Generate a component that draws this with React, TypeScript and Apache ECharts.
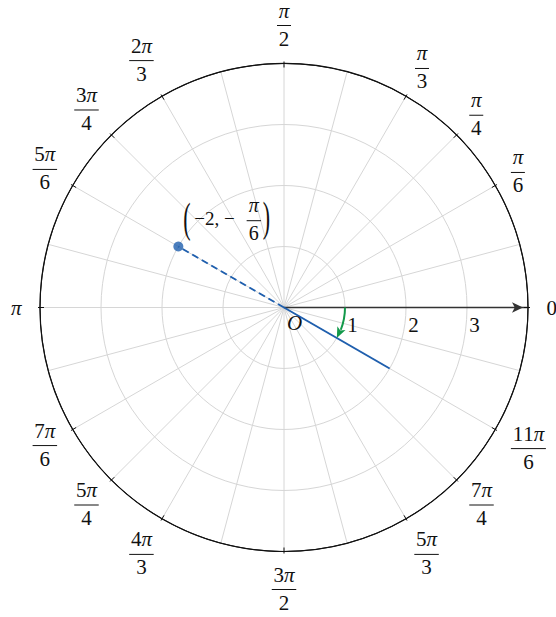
import React, { useEffect, useRef } from 'react';
import * as echarts from 'echarts';

// ---- data ----
const radiusMax = 4;
const radiusTicks = [0, 1, 2, 3];
const radiusTickLabels = ['O', '1', '2', '3'];
const angleLabelDeg = [0, 30, 45, 60, 90, 120, 135, 150, 180, 210, 225, 240, 270, 300, 315, 330];
const angleLabelNum = ['0', 'π', 'π', 'π', 'π', '2π', '3π', '5π', 'π', '7π', '5π', '4π', '3π', '5π', '7π', '11π'];
const angleLabelDen = ['', '6', '4', '3', '2', '3', '4', '6', '', '6', '4', '3', '2', '3', '4', '6'];
const pointR = -2; // polar point (−2, −π/6)
const pointDeg = -30;
const rayR = 2; // ray at θ = −π/6
const rayDeg = -30;
const arcData = [[1, 0, -30]]; // radius, from angle, to angle (deg)
const annotationLead = '−2, −';
const annotationNum = 'π';
const annotationDen = '6';

// ---- styles ----
const SERIF = 'Liberation Serif';
const BLUE = '#1f5fae';
const GREEN = '#12994a';
const GRID = '#d6d6d6';
const INK = '#111';

const norm = (d: number) => ((d % 360) + 360) % 360;
const toDisplay = (r: number, deg: number) => (r < 0 ? [-r, norm(deg + 180)] : [r, norm(deg)]);
const pt = toDisplay(pointR, pointDeg);
const ray = toDisplay(rayR, rayDeg);

function richNum(s: string) {
  return s
    .split('')
    .map((ch) => (ch === 'π' ? '{i|π}' : `{u|${ch}}`))
    .join('');
}
const richStyles = {
  u: { fontFamily: SERIF, fontSize: 21, fontStyle: 'normal', fill: INK, color: INK },
  i: { fontFamily: SERIF, fontSize: 21, fontStyle: 'italic', fill: INK, color: INK },
};

function txt(text: string, size: number, italic = false, align = 'center') {
  return {
    text,
    fontFamily: SERIF,
    fontSize: size,
    fontStyle: italic ? 'italic' : 'normal',
    align,
    verticalAlign: 'middle',
    fill: INK,
  };
}

function buildOption() {
  return {
    animation: false,
    backgroundColor: '#fff',
    polar: { center: [284, 307.5], radius: 244 },
    angleAxis: {
      type: 'value',
      min: 0,
      max: 360,
      interval: 15,
      startAngle: 0,
      clockwise: false,
      z: 0,
      axisLine: { show: true, lineStyle: { color: INK, width: 1.2 } },
      axisTick: { show: false },
      axisLabel: { show: false },
      splitLine: { show: true, lineStyle: { color: GRID, width: 1 } },
    },
    radiusAxis: {
      type: 'value',
      min: 0,
      max: radiusMax,
      interval: 1,
      z: 1,
      axisLine: {
        show: true,
        symbol: ['none', 'arrow'],
        symbolSize: [8, 11],
        symbolOffset: [0, -5],
        lineStyle: { color: '#333', width: 1.3 },
      },
      axisTick: { show: false },
      axisLabel: { show: false },
      splitLine: { show: true, lineStyle: { color: [GRID, GRID, GRID, GRID, INK], width: 1 } },
    },
    series: [
      {
        type: 'line',
        coordinateSystem: 'polar',
        data: [[0, ray[1]], ray],
        symbol: 'none',
        lineStyle: { color: BLUE, width: 2 },
        z: 3,
      },
      {
        type: 'line',
        coordinateSystem: 'polar',
        data: [[0, pt[1]], pt],
        symbol: 'none',
        lineStyle: { color: BLUE, width: 2, type: [7, 4] },
        z: 3,
      },
      {
        type: 'scatter',
        coordinateSystem: 'polar',
        data: [pt],
        symbolSize: 10,
        itemStyle: { color: BLUE },
        z: 4,
      },
      {
        type: 'custom',
        coordinateSystem: 'polar',
        silent: true,
        z: 5,
        data: arcData,
        encode: { radius: 0, angle: 1 },
        renderItem: (params: any, api: any) => {
          const cs = params.coordSys;
          const cx = cs.cx;
          const cy = cs.cy;
          const p = api.coord([api.value(0), 0]);
          const r = Math.hypot(p[0] - cx, p[1] - cy);
          const a0 = (-api.value(1) * Math.PI) / 180;
          const aT = (-api.value(2) * Math.PI) / 180;
          const dirSign = aT > a0 ? 1 : -1;
          const L = 11;
          const hw = 4.5;
          const aB = aT - (dirSign * L) / r;
          const T = [cx + r * Math.cos(aT), cy + r * Math.sin(aT)];
          const B = [cx + r * Math.cos(aB), cy + r * Math.sin(aB)];
          const dx = T[0] - B[0];
          const dy = T[1] - B[1];
          const dl = Math.hypot(dx, dy);
          const ux = dx / dl;
          const uy = dy / dl;
          const nx = -uy;
          const ny = ux;
          return {
            type: 'group',
            children: [
              {
                type: 'arc',
                shape: { cx, cy, r, startAngle: a0, endAngle: aB + dirSign * 0.03, clockwise: dirSign > 0 },
                style: { stroke: GREEN, lineWidth: 2, fill: null },
              },
              {
                type: 'polygon',
                shape: {
                  points: [
                    T,
                    [B[0] + nx * hw, B[1] + ny * hw],
                    [T[0] - ux * L * 0.75, T[1] - uy * L * 0.75],
                    [B[0] - nx * hw, B[1] - ny * hw],
                  ],
                },
                style: { fill: GREEN },
              },
            ],
          };
        },
      },
      {
        type: 'custom',
        coordinateSystem: 'polar',
        silent: true,
        z: 5,
        data: angleLabelDeg.map((a, i) => [radiusMax, a, i]),
        encode: { radius: 0, angle: 1 },
        renderItem: (params: any, api: any) => {
          const cs = params.coordSys;
          const cx = cs.cx;
          const cy = cs.cy;
          const idx = api.value(2);
          const p = api.coord([api.value(0), api.value(1)]);
          const R = Math.hypot(p[0] - cx, p[1] - cy);
          const ux = (p[0] - cx) / R;
          const uy = (p[1] - cy) / R;
          const num = angleLabelNum[idx];
          const den = angleLabelDen[idx];
          const isFrac = den !== '';
          const barW = Math.max(num.length, den.length) * 10.5 + 3.5;
          const hw = isFrac ? barW / 2 : num.length * 5.25 + 0.5;
          const hh = isFrac ? 20 : 7;
          const tx = Math.abs(ux) > 1e-6 ? hw / Math.abs(ux) : Infinity;
          const ty = Math.abs(uy) > 1e-6 ? hh / Math.abs(uy) : Infinity;
          const d = R + 18 + Math.min(tx, ty);
          const lx = cx + ux * d;
          const ly = cy + uy * d;
          const children: any[] = [
            {
              type: 'line',
              shape: { x1: cx + ux * (R - 4), y1: cy + uy * (R - 4), x2: cx + ux * (R + 2), y2: cy + uy * (R + 2) },
              style: { stroke: INK, lineWidth: 1 },
            },
          ];
          if (isFrac) {
            children.push(
              {
                type: 'line',
                shape: { x1: lx - barW / 2, y1: ly, x2: lx + barW / 2, y2: ly },
                style: { stroke: INK, lineWidth: 1 },
              },
              {
                type: 'text',
                x: lx,
                y: ly - 15,
                style: { ...txt(richNum(num), 21), rich: richStyles },
              },
              {
                type: 'text',
                x: lx,
                y: ly + 13,
                style: txt(den, 21),
              }
            );
          } else {
            children.push({
              type: 'text',
              x: lx,
              y: ly,
              style: { ...txt(richNum(num), 21), rich: richStyles },
            });
          }
          return { type: 'group', children };
        },
      },
      {
        type: 'custom',
        coordinateSystem: 'polar',
        silent: true,
        z: 5,
        data: radiusTicks.map((r, i) => [r, 0, i]),
        encode: { radius: 0, angle: 1 },
        renderItem: (params: any, api: any) => {
          const i = api.value(2);
          const p = api.coord([api.value(0), api.value(1)]);
          const isOrigin = api.value(0) === 0;
          return {
            type: 'text',
            x: p[0] + (isOrigin ? 10.5 : 7.5),
            y: p[1] + (isOrigin ? 15.5 : 17),
            style: txt(radiusTickLabels[i], 21, isOrigin),
          };
        },
      },
      {
        type: 'custom',
        coordinateSystem: 'polar',
        silent: true,
        z: 5,
        data: [pt],
        encode: { radius: 0, angle: 1 },
        renderItem: (params: any, api: any) => {
          const P = api.coord([api.value(0), api.value(1)]);
          const x0 = P[0];
          const y0 = P[1];
          const barY = y0 - 25.8;
          return {
            type: 'group',
            children: [
              { type: 'text', x: x0 + 8.5, y: y0 - 29, scaleY: 1.9, style: txt('(', 22) },
              { type: 'text', x: x0 + 16, y: y0 - 28, style: txt(annotationLead, 19, false, 'left') },
              {
                type: 'line',
                shape: { x1: x0 + 68.3, y1: barY, x2: x0 + 82.7, y2: barY },
                style: { stroke: INK, lineWidth: 1 },
              },
              { type: 'text', x: x0 + 75.5, y: barY - 16, style: txt(annotationNum, 20, true) },
              { type: 'text', x: x0 + 75.5, y: barY + 12.5, style: txt(annotationDen, 20) },
              { type: 'text', x: x0 + 88, y: y0 - 30, scaleY: 1.9, style: txt(')', 22) },
            ],
          };
        },
      },
    ],
  };
}

export default function App() {
  const ref = useRef<HTMLDivElement>(null);
  useEffect(() => {
    if (!ref.current) return;
    const chart = echarts.init(ref.current, null, { renderer: 'svg' });
    chart.setOption(buildOption() as any);
    return () => chart.dispose();
  }, []);
  return <div ref={ref} style={{ position: 'absolute', left: 0, top: 0, width: 556, height: 617 }} />;
}
